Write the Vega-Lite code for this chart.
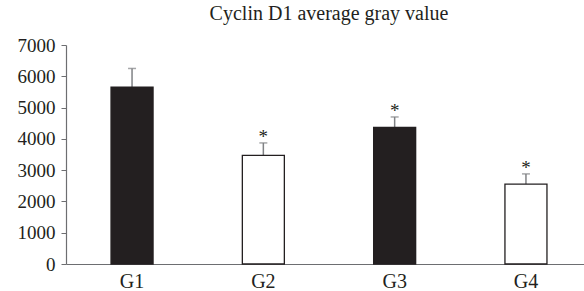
{
  "$schema": "https://vega.github.io/schema/vega-lite/v6.json",
  "autosize": "none",
  "padding": {"left": 66, "top": 45, "right": 0, "bottom": 27},
  "width": 526,
  "height": 219,
  "background": "white",
  "title": {
    "text": "Cyclin D1 average gray value",
    "font": "Liberation Serif",
    "fontSize": 20,
    "fontWeight": "normal",
    "color": "#231f20",
    "anchor": "middle",
    "offset": 12
  },
  "config": {
    "view": {"stroke": null},
    "axis": {"labelFont": "Liberation Serif", "titleFont": "Liberation Serif", "labelColor": "#231f20", "domainColor": "#6d6e71", "tickColor": "#6d6e71", "grid": false, "domainWidth": 1.2},
    "axisY": {"labelFontSize": 19, "tickSize": 5, "labelPadding": 6, "format": "d", "values": [0, 1000, 2000, 3000, 4000, 5000, 6000, 7000]},
    "axisX": {"labelFontSize": 20, "ticks": false, "labelPadding": 7, "labelAngle": 0}
  },
  "data": {
    "values": [
      {"group": "G1", "value": 5650, "err": 600, "sig": "", "fill": "black"},
      {"group": "G2", "value": 3470, "err": 400, "sig": "*", "fill": "white"},
      {"group": "G3", "value": 4370, "err": 330, "sig": "*", "fill": "black"},
      {"group": "G4", "value": 2550, "err": 330, "sig": "*", "fill": "white"}
    ]
  },
  "transform": [{"calculate": "datum.value + datum.err", "as": "upper"}],
  "encoding": {
    "x": {
      "field": "group",
      "type": "nominal",
      "sort": null,
      "title": null,
      "scale": {"paddingInner": 0.68, "paddingOuter": 0.343}
    }
  },
  "layer": [
    {
      "mark": {"type": "rule", "color": "#808285", "strokeWidth": 1.5},
      "encoding": {
        "y": {"field": "value", "type": "quantitative", "title": null, "scale": {"domain": [0, 7000]}},
        "y2": {"field": "upper"}
      }
    },
    {
      "mark": {"type": "tick", "color": "#808285", "thickness": 1.5, "size": 8},
      "encoding": {
        "y": {"field": "upper", "type": "quantitative", "title": null}
      }
    },
    {
      "mark": {"type": "bar", "stroke": "#231f20", "strokeWidth": 1.3},
      "encoding": {
        "y": {"field": "value", "type": "quantitative", "title": null},
        "fill": {
          "field": "fill",
          "type": "nominal",
          "scale": {"domain": ["black", "white"], "range": ["#231f20", "#ffffff"]},
          "legend": null
        }
      }
    },
    {
      "mark": {"type": "text", "font": "Liberation Serif", "fontSize": 19, "fill": "#231f20", "baseline": "alphabetic", "dy": 0},
      "encoding": {
        "y": {"field": "upper", "type": "quantitative", "title": null},
        "text": {"field": "sig"}
      }
    }
  ]
}
